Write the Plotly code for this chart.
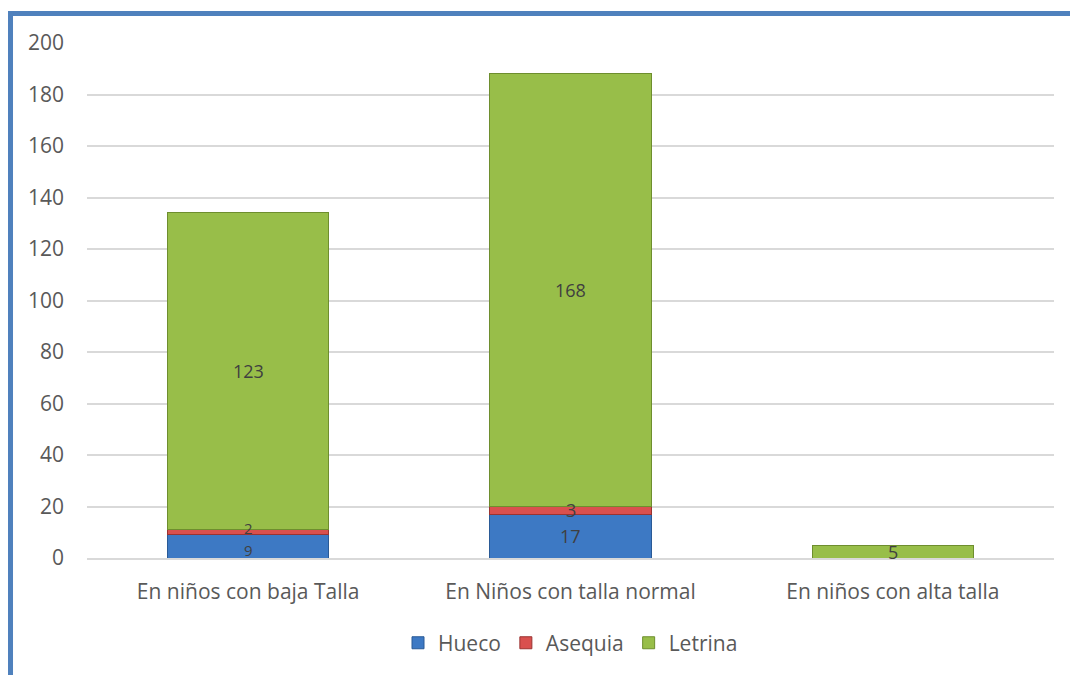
import plotly.graph_objects as go

categories = ["En niños con baja Talla", "En Niños con talla normal", "En niños con alta talla"]
hueco = [9, 17, 0]
asequia = [2, 3, 0]
letrina = [123, 168, 5]
y_ticks = [0, 20, 40, 60, 80, 100, 120, 140, 160, 180, 200]

series = [
    ("Hueco", hueco, "#3D79C4", "#2A5A96"),
    ("Asequia", asequia, "#D9504E", "#9A3331"),
    ("Letrina", letrina, "#98BE49", "#6E8E2E"),
]

FONT = "Open Sans"
TEXT_COLOR = "#595959"

fig = go.Figure()
for name, vals, fill, edge in series:
    fig.add_trace(go.Bar(
        name=name, x=categories, y=vals, width=0.5,
        marker=dict(color=fill, line=dict(color=edge, width=1)),
        hoverinfo="skip",
    ))

# value labels centred on each stacked segment
labels = []  # (category index, centre value, text)
base = [0] * len(categories)
for name, vals, fill, edge in series:
    for i, v in enumerate(vals):
        if v:
            labels.append((i, base[i] + v / 2, str(v)))
        base[i] += v

annotations = []
for i, yc, txt in labels:
    # labels crowded against a neighbour in the same stack get smaller type
    # and are nudged apart
    near = [y2 for j, y2, _ in labels if j == i and y2 != yc and abs(y2 - yc) < 8]
    size, shift = 18, 0
    if near:
        size = 15
        shift = 4 if yc > near[0] else -4
    annotations.append(dict(
        x=categories[i], y=yc, xref="x", yref="y", text=txt, showarrow=False,
        yshift=shift, font=dict(family=FONT, size=size, color="#404040"),
    ))

# outer frame along top and left edges
frame = "#4F81BD"
shapes = [
    dict(type="line", xref="paper", yref="paper", x0=-0.0791, x1=1.02, y0=1.0572, y1=1.0572,
         line=dict(color=frame, width=5)),
    dict(type="line", xref="paper", yref="paper", x0=-0.0791, x1=-0.0791, y0=1.062, y1=-0.23,
         line=dict(color=frame, width=5)),
]

fig.update_layout(
    barmode="stack",
    bargap=0.5,
    width=1070, height=675,
    margin=dict(l=87, r=16, t=43, b=116),
    paper_bgcolor="white", plot_bgcolor="white",
    font=dict(family=FONT, size=21, color=TEXT_COLOR),
    showlegend=True,
    legend=dict(orientation="h", x=0.5, xanchor="center", y=-0.163, yanchor="middle",
                traceorder="normal",
                font=dict(family=FONT, size=21, color=TEXT_COLOR),
                itemwidth=30, tracegroupgap=0),
    annotations=annotations,
    shapes=shapes,
    xaxis=dict(showgrid=False, showline=True, linecolor="#D9D9D9", linewidth=1.5,
               ticks="", ticklabelstandoff=14,
               tickfont=dict(family=FONT, size=21, color=TEXT_COLOR)),
    yaxis=dict(range=[0, 200], tickvals=y_ticks, showgrid=True, gridcolor="#D9D9D9",
               gridwidth=1.5, zeroline=False, showline=False, ticks="",
               ticklabelstandoff=22,
               tickfont=dict(family=FONT, size=21, color=TEXT_COLOR)),
)

fig.write_html("out.html")
